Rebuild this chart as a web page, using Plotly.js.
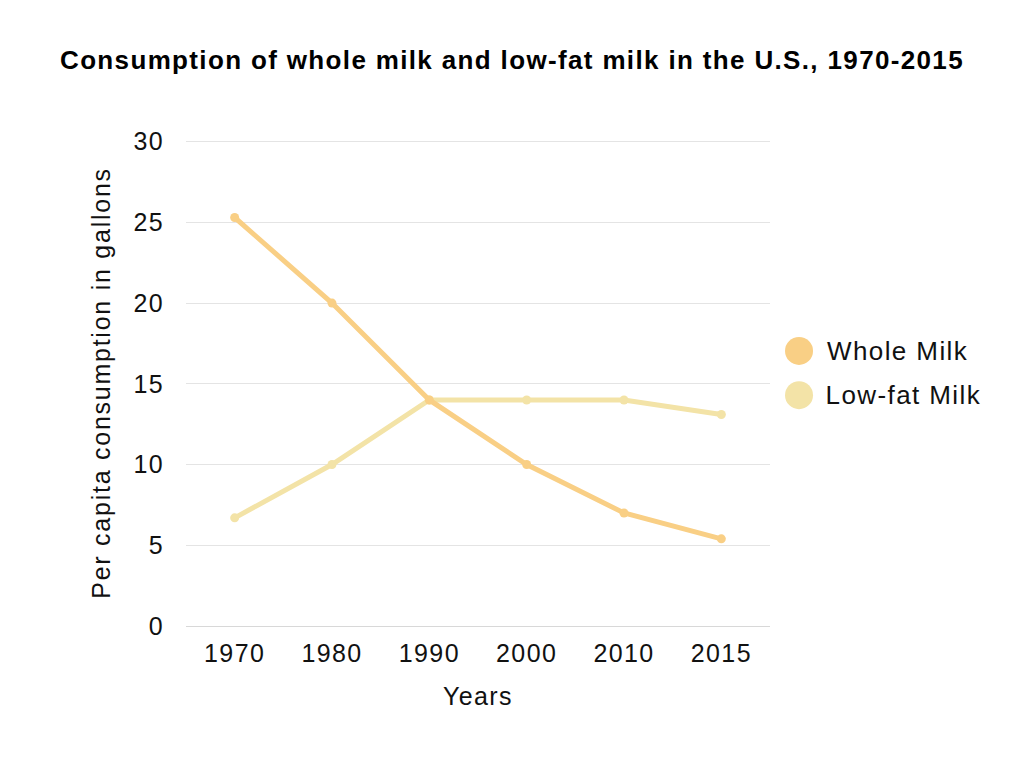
<!DOCTYPE html>
<html><head><meta charset="utf-8">
<script src="https://cdn.plot.ly/plotly-3.0.1.min.js"></script>
<style>
body{margin:0;background:#fff}
#chart{width:1024px;height:768px}
#chart text{letter-spacing:1.4px}
#chart .gtitle{letter-spacing:1.35px}
#chart .ytitle{letter-spacing:1.75px}
</style>
</head><body><div id="chart"></div>
<script>
const years = ['1970','1980','1990','2000','2010','2015'];
const wholeMilk = [25.3, 20, 14, 10, 7, 5.4];
const lowFatMilk = [6.7, 10, 14, 14, 14, 13.1];
const yTicks = [0, 5, 10, 15, 20, 25, 30];
const seriesNames = ['Whole Milk', 'Low-fat Milk'];
const seriesColors = ['#F9CF85', '#F3E3A7'];

const font = 'Liberation Sans, Arial, sans-serif';
const traces = [
  {x: years, y: lowFatMilk, name: seriesNames[1], type: 'scatter', mode: 'lines+markers',
   line: {color: seriesColors[1], width: 5}, marker: {color: seriesColors[1], size: 9}, showlegend: false},
  {x: years, y: wholeMilk, name: seriesNames[0], type: 'scatter', mode: 'lines+markers',
   line: {color: seriesColors[0], width: 5}, marker: {color: seriesColors[0], size: 9}, showlegend: false}
];

// legend drawn as circles + labels
const legendY = [0.566, 0.475];
const shapes = seriesNames.map((n, i) => ({
  type: 'circle', xref: 'paper', yref: 'paper',
  xsizemode: 'pixel', ysizemode: 'pixel',
  xanchor: 1.0497, yanchor: legendY[i],
  x0: -14, x1: 14, y0: -14, y1: 14,
  fillcolor: seriesColors[i], line: {width: 0}
}));
const annotations = seriesNames.map((n, i) => ({
  text: n, xref: 'paper', yref: 'paper', x: 1.106, y: legendY[i],
  xanchor: 'left', yanchor: 'middle', showarrow: false,
  font: {size: 26, family: font, color: '#111'}
}));

const layout = {
  width: 1024, height: 768,
  margin: {l: 186, r: 254, t: 140, b: 142},
  paper_bgcolor: '#fff', plot_bgcolor: '#fff',
  font: {family: font, color: '#111', size: 25},
  title: {text: '<b>Consumption of whole milk and low-fat milk in the U.S., 1970-2015</b>',
          font: {size: 26, family: font, color: '#000'}, x: 0.5, xanchor: 'center', y: 0.922, yanchor: 'middle'},
  xaxis: {type: 'category', range: [-0.5, 5.5], showgrid: false, zeroline: false,
          showline: true, linecolor: '#d8d8d8', linewidth: 1, ticks: '', ticklabelstandoff: 5,
          tickfont: {size: 25},
          title: {text: 'Years', font: {size: 25}, standoff: 21}},
  yaxis: {range: [0, 30.1], tickvals: yTicks, showgrid: true, gridcolor: '#e4e4e4', gridwidth: 1,
          zeroline: false, showline: false, ticks: '', ticklabelstandoff: 21,
          tickfont: {size: 25},
          title: {text: 'Per capita consumption in gallons', font: {size: 25}, standoff: 18}},
  shapes: shapes,
  annotations: annotations,
  showlegend: false
};
Plotly.newPlot('chart', traces, layout, {displayModeBar: false, staticPlot: true});
</script></body></html>
